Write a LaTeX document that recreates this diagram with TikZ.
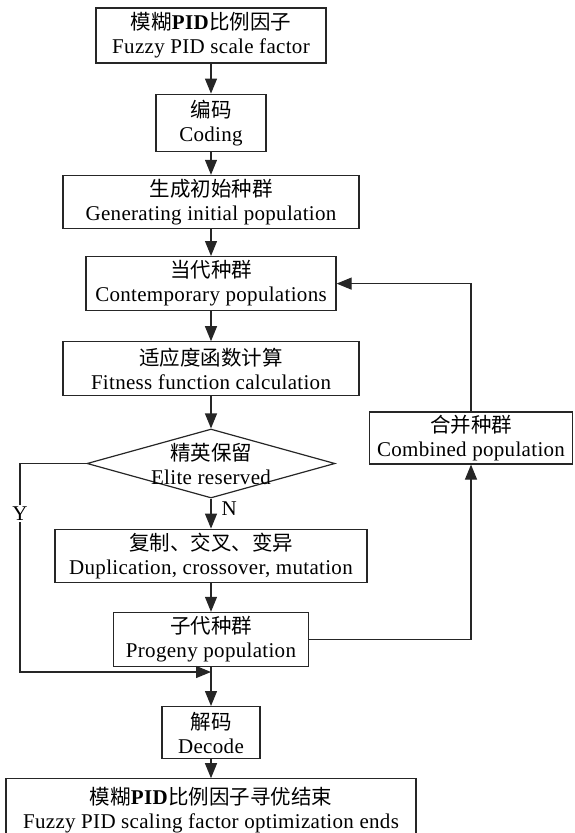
\documentclass[tikz,border=0pt]{standalone}
\usepackage{fontspec}
\setmainfont{Liberation Serif}[LetterSpace=1.5]
\newfontfamily\cjk{Noto Sans CJK SC}
\usepackage{tikz}
\usetikzlibrary{shapes.geometric, arrows.meta, positioning}

\newcommand{\zh}[1]{{\cjk\fontsize{20.5}{24}\selectfont #1}}

\begin{document}
\begin{tikzpicture}[
    x=1pt, y=-1pt,
    node distance=30pt,
    every node/.style={font=\fontsize{21}{24}\selectfont},
    box/.style={rectangle, draw=black!85, line width=1.2pt, inner sep=0pt, align=center, minimum height=54pt},
    decision/.style={diamond, draw=black!85, line width=1.2pt, inner sep=0pt, minimum width=248pt, minimum height=69pt},
    arrow/.style={-{Triangle[length=15pt, width=12pt]}, line width=1.2pt, draw=black!85},
    yn_label/.style={inner sep=2pt}
  ]
  \useasboundingbox (0,0) rectangle (574,833);

  % main column
  \node[box, minimum width=230pt, minimum height=55pt] (scale) at (211,35.5) {\zh{模糊}\textbf{PID}\zh{比例因子}\\Fuzzy PID scale factor};
  \node[box, minimum width=110pt, minimum height=57pt] (coding) [below=30pt of scale] {\zh{编码}\\Coding};
  \node[box, minimum width=296pt, minimum height=53pt] (init) [below=23pt of coding] {\zh{生成初始种群}\\Generating initial population};
  \node[box, minimum width=250pt] (current) [below=27pt of init] {\zh{当代种群}\\Contemporary populations};
  \node[box, minimum width=296pt] (fitness) [below=30pt of current] {\zh{适应度函数计算}\\Fitness function calculation};
  \node[decision, label={[align=center]center:\zh{精英保留}\\Elite reserved}] (elite) [below=32pt of fitness] {};
  \node[box, minimum width=312pt, minimum height=53pt] (ops) [below=30pt of elite] {\zh{复制、交叉、变异}\\Duplication, crossover, mutation};
  \node[box, minimum width=195pt] (progeny) [below=29pt of ops] {\zh{子代种群}\\Progeny population};
  \node[box, minimum width=98pt, minimum height=52pt] (decode) [below=39pt of progeny] {\zh{解码}\\Decode};
  \node[box, minimum width=410pt, minimum height=63pt] (result) [below=19pt of decode] {\zh{模糊}\textbf{PID}\zh{比例因子寻优结束}\\Fuzzy PID scaling factor optimization ends};

  % feedback branch
  \node[box, minimum width=203pt, minimum height=52pt] (merged) at (471,438) {\zh{合并种群}\\Combined population};

  \coordinate (ycorner) at (20,672);
  \coordinate (yjoin) at (progeny.south |- ycorner);

  \draw[arrow] (scale) -- (coding);
  \draw[arrow] (coding) -- (init);
  \draw[arrow] (init) -- (current);
  \draw[arrow] (current) -- (fitness);
  \draw[arrow] (fitness) -- (elite);
  \draw[arrow] (elite) -- node[yn_label, right, pos=0.35, xshift=8pt] {N} (ops);
  \draw[arrow] (ops) -- (progeny);
  \draw[arrow] (progeny) -- (decode);
  \draw[arrow] (decode) -- (result);

  \draw[arrow] (elite.west) -| node[yn_label, pos=0.62, fill=white] {Y} (ycorner) -- (yjoin);
  \draw[arrow] (progeny.east) -| (merged.south);
  \draw[arrow] (merged.north) |- (current.east);

\end{tikzpicture}
\end{document}
